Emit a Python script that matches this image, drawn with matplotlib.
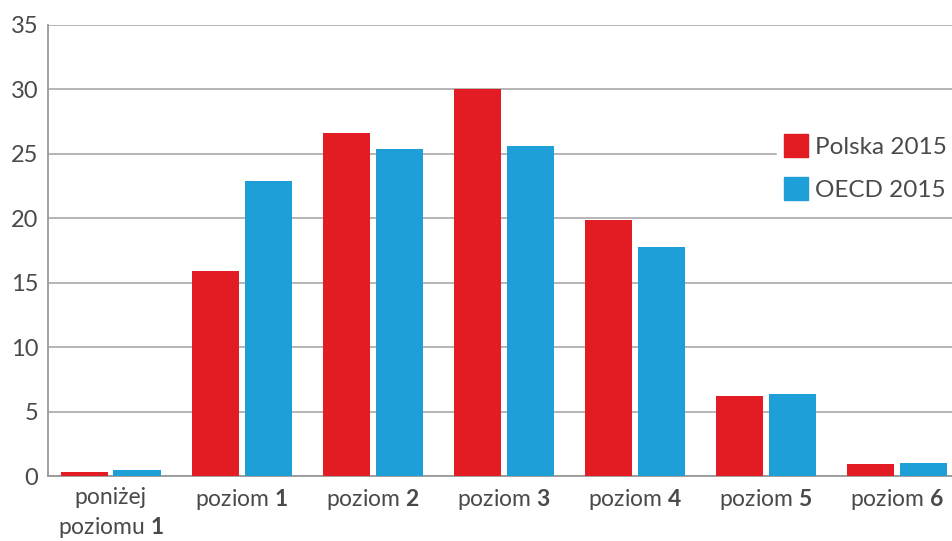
import matplotlib.pyplot as plt
from matplotlib.patches import Patch
import numpy as np

plt.rcParams['font.family'] = ['Lato', 'DejaVu Sans']
plt.rcParams['mathtext.fontset'] = 'custom'
plt.rcParams['mathtext.rm'] = 'Lato'
plt.rcParams['mathtext.bf'] = 'Lato:bold'

poziomy = ["poniżej\npoziomu $\\mathbf{1}$", "poziom $\\mathbf{1}$", "poziom $\\mathbf{2}$",
           "poziom $\\mathbf{3}$", "poziom $\\mathbf{4}$", "poziom $\\mathbf{5}$", "poziom $\\mathbf{6}$"]
polska_2015 = [0.3, 15.9, 26.6, 30.0, 19.9, 6.2, 0.9]
oecd_2015 = [0.5, 22.9, 25.4, 25.6, 17.8, 6.4, 1.0]

czerwony = "#e31b23"
niebieski = "#1f9fd7"
szary = "#4a4a4a"

fig = plt.figure(figsize=(9.52, 5.41), dpi=100)
ax = fig.add_axes([0.0504, 0.12, 0.9496, 0.834])

x = np.arange(len(poziomy))
szer = 0.36
ax.bar(x - 0.2, polska_2015, szer, color=czerwony, zorder=3)
ax.bar(x + 0.2, oecd_2015, szer, color=niebieski, zorder=3)

ax.set_xlim(-0.48, 6.42)
ax.set_ylim(0, 35)
ax.set_yticks(range(0, 36, 5))
ax.yaxis.grid(True, color="#b0b0b0", linewidth=1.3, zorder=0)
ax.set_xticks(x)
ax.set_xticklabels(poziomy, linespacing=1.35)
ax.tick_params(axis="x", length=0, labelsize=16.5, colors=szary, pad=8)
ax.tick_params(axis="y", length=0, labelsize=17, colors=szary, pad=7)

for s in ["top", "right"]:
    ax.spines[s].set_visible(False)
for s in ["left", "bottom"]:
    ax.spines[s].set_color("#999999")
    ax.spines[s].set_linewidth(1.3)

uchwyty = [Patch(color=czerwony, label="Polska 2015"),
           Patch(color=niebieski, label="OECD 2015")]
leg = fig.legend(handles=uchwyty, loc="upper left", bbox_to_anchor=(0.816, 0.765),
                 frameon=True, fontsize=17.5, handlelength=1.0, handleheight=1.05,
                 handletextpad=0.25, labelspacing=0.8, borderpad=0.3,
                 labelcolor=szary, borderaxespad=0)
leg.get_frame().set_edgecolor("white")
leg.get_frame().set_facecolor("white")
leg.get_frame().set_alpha(1)

plt.savefig("out.png", dpi=100)
